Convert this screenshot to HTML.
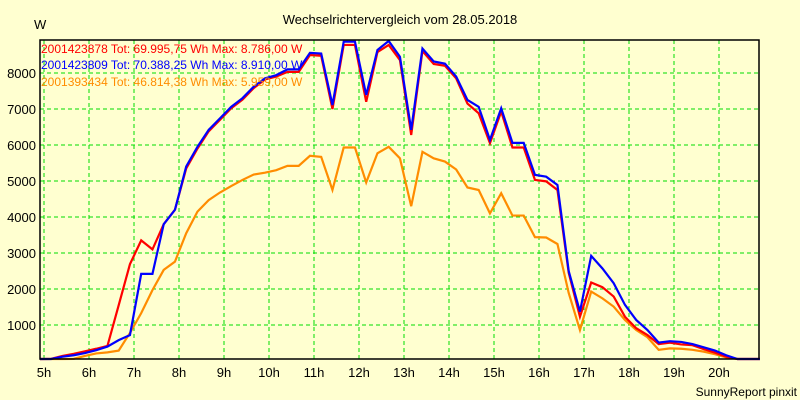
<!DOCTYPE html>
<html><head><meta charset="utf-8"><style>
html,body{margin:0;padding:0;background:#ffffd0;}
svg{display:block;font-family:"Liberation Sans",Arial,sans-serif;}
</style></head><body>
<svg id="chart" width="800" height="400" viewBox="0 0 800 400">
<rect x="0" y="0" width="800" height="400" fill="#ffffd0"/>
<text x="400" y="24" font-size="13" text-anchor="middle" fill="#000">Wechselrichtervergleich vom 28.05.2018</text>
<text x="34" y="29" font-size="13" fill="#000">W</text>
<g id="grid"></g>
<g id="series"></g>
<rect x="40" y="40" width="719" height="319" fill="none" stroke="#000" stroke-width="1.5"/>
<g id="axes"></g>
<g>
<text x="41" y="53" font-size="12" fill="#ff0000">2001423878 Tot: 69.995,75 Wh Max: 8.786,00 W</text>
<text x="41" y="69" font-size="12" fill="#0000ff">2001423809 Tot: 70.388,25 Wh Max: 8.910,00 W</text>
<text x="41" y="86" font-size="12" fill="#ff8c00">2001393434 Tot: 46.814,38 Wh Max: 5.959,00 W</text>
</g>
<text x="797" y="396" font-size="12" text-anchor="end" fill="#000">SunnyReport pinxit</text>
</svg>
<script>
const hourTicks = [5,6,7,8,9,10,11,12,13,14,15,16,17,18,19,20];
const hourLabels = ["5h","6h","7h","8h","9h","10h","11h","12h","13h","14h","15h","16h","17h","18h","19h","20h"];
const valueTicks = [1000,2000,3000,4000,5000,6000,7000,8000];
const startHour = 4.91;
const stepHours = 0.25;
const redValues = [0,60,140,200,270,340,420,1550,2690,3350,3100,3800,4200,5350,5900,6380,6700,7020,7260,7580,7820,7900,8030,8030,8500,8480,7000,8780,8780,7200,8580,8780,8360,6280,8610,8250,8200,7850,7150,6880,6050,6930,5930,5930,5030,4990,4750,2450,1230,2180,2050,1790,1230,910,720,470,510,460,440,330,230,120,20,0,0];
const blueValues = [0,50,120,160,220,300,400,580,720,2420,2420,3800,4200,5400,5950,6420,6740,7060,7300,7620,7850,7940,8100,8100,8560,8540,7110,8870,8870,7390,8640,8890,8450,6420,8680,8320,8260,7900,7250,7060,6140,7020,6060,6060,5170,5120,4890,2500,1370,2920,2570,2160,1560,1140,860,510,550,530,470,380,290,160,40,0,0];
const orangeValues = [0,0,20,60,140,210,240,290,780,1330,1970,2530,2760,3550,4150,4470,4680,4860,5030,5180,5230,5300,5420,5420,5700,5670,4750,5930,5930,4960,5770,5950,5630,4300,5810,5630,5540,5320,4820,4750,4100,4660,4040,4040,3440,3430,3250,1890,860,1930,1740,1510,1140,860,660,310,350,340,310,260,190,100,0,0,0];

const NS="http://www.w3.org/2000/svg";
const xScale = h => 44 + 45*(h-5);
const yScale = v => Math.min(359, 361 - v*0.036);
const grid=document.getElementById('grid'), axes=document.getElementById('axes'), series=document.getElementById('series');
function mk(tag, attrs, parent){const e=document.createElementNS(NS,tag);for(const k in attrs)e.setAttribute(k,attrs[k]);parent.appendChild(e);return e;}
valueTicks.forEach(v=>{
  const y=yScale(v);
  const l=mk('line',{x1:40,x2:759,y1:y,y2:y,stroke:'#00dd00','stroke-width':1,'stroke-dasharray':'4,3'},grid);
  
  
  const t=mk('text',{x:36,y:y+5,'font-size':13,'text-anchor':'end',fill:'#000'},axes);
  t.textContent=String(v);
  
  
});
hourTicks.forEach((h,i)=>{
  const x=xScale(h);
  const l=mk('line',{x1:x,x2:x,y1:40,y2:359,stroke:'#00dd00','stroke-width':1,'stroke-dasharray':'4,3'},grid);
  
  
  const t=mk('text',{x:x,y:377,'font-size':13,'text-anchor':'middle',fill:'#000'},axes);
  t.textContent=hourLabels[i];
  
  
});
function drawLine(vals,color,name){
  const pts=vals.map((v,i)=>xScale(startHour+i*stepHours).toFixed(2)+','+yScale(v).toFixed(2)).join(' ');
  const p=mk('polyline',{points:pts,fill:'none',stroke:color,'stroke-width':2.2,'stroke-linejoin':'miter'},series);
  
  
}
drawLine(orangeValues,'#ff8c00','series-2001393434');
drawLine(redValues,'#ff0000','series-2001423878');
drawLine(blueValues,'#0000ff','series-2001423809');
</script>
</body></html>
